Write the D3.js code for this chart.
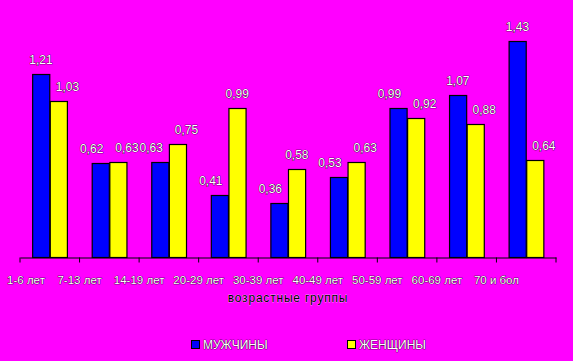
<!DOCTYPE html>
<html>
<head>
<meta charset="utf-8">
<script src="https://cdn.jsdelivr.net/npm/d3@7"></script>
<style>
  html, body { margin: 0; padding: 0; background: #ff00ff; }
  svg { display: block; font-family: "Liberation Sans", Arial, sans-serif; }
  .lbl { fill: #fff; stroke: #000; stroke-width: 0.7px; paint-order: stroke; }
</style>
</head>
<body>
<svg id="chart"></svg>
<script>
// age groups and values per sex
const ageGroups = ['1-6 лет', '7-13 лет', '14-19 лет', '20-29 лет', '30-39 лет',
    '40-49 лет', '50-59 лет', '60-69 лет', '70 и бол'];
const men = [1.21, 0.62, 0.63, 0.41, 0.36, 0.53, 0.99, 1.07, 1.43];
const women = [1.03, 0.63, 0.75, 0.99, 0.58, 0.63, 0.92, 0.88, 0.64];
const seriesNames = ['МУЖЧИНЫ', 'ЖЕНЩИНЫ'];
const seriesColors = ['#0000ff', '#ffff00'];
const axisTitle = 'возрастные группы';

let width = 573, height = 361;
let svg = d3.select('#chart').attr('width', width).attr('height', height);

let x = d3.scaleBand().domain(ageGroups).range([20, 556]);
let xs = d3.scaleBand().domain([0, 1]).range([0, x.bandwidth()]).paddingOuter(0.69);
let y = d3.scaleLinear().domain([0, 1.6]).range([257, 15.4]);
let fmt = v => d3.format('.2f')(v).replace('.', ',');

let rows = ageGroups.map((g, i) => ({group: g, vals: [men[i], women[i]]}));

// label placement: a label moves to the outer edge of its bar when the
// neighbouring bar is taller, or when both labels would collide
function labelShift(vals, s) {
    let dy = Math.abs(y(vals[0]) - y(vals[1]));
    let other = vals[1 - s];
    if (dy < 20 || other > vals[s]) {
        return (s === 0 ? -1 : 1) * xs.bandwidth() / 2;
    }
    return 0;
}

let groups = svg.selectAll('g.grp')
        .data(rows)
        .join('g')
        .attr('class', 'grp')
        .attr('transform', d => `translate(${x(d.group)},0)`);

groups.selectAll('rect')
        .data(d => d.vals.map((v, s) => ({v, s})))
        .join('rect')
        .attr('x', d => xs(d.s) + 0.5)
        .attr('y', d => Math.round(y(d.v)) + 0.5)
        .attr('width', xs.bandwidth() - 0.5)
        .attr('height', d => y(0) - Math.round(y(d.v)))
        .attr('fill', d => seriesColors[d.s])
        .attr('stroke', '#000')
        .attr('stroke-width', 1.2);

groups.selectAll('text.val')
        .data(d => d.vals.map((v, s) => ({v, s, vals: d.vals})))
        .join('text')
        .attr('class', 'val lbl')
        .attr('x', d => xs(d.s) + xs.bandwidth() / 2 + labelShift(d.vals, d.s))
        .attr('y', d => y(d.v) - 10)
        .attr('text-anchor', 'middle')
        .attr('font-size', 12)
        .text(d => fmt(d.v));

// x axis: labels sit under the left tick of each group
let axis = d3.axisBottom(x).tickSize(5).tickSizeOuter(0);
let ax = svg.append('g')
        .attr('transform', `translate(0,${y(0) + 0.5})`)
        .call(axis);
ax.select('.domain').attr('stroke', '#000').attr('stroke-width', 1.2);
ax.selectAll('.tick line')
        .attr('stroke', '#000')
        .attr('transform', `translate(${-x.bandwidth() / 2},0)`);
ax.selectAll('.tick text')
        .attr('class', 'lbl')
        .attr('transform', (d, i) => `translate(${-x.bandwidth() / 2 + (i === 0 ? 6 : 0)},0)`)
        .attr('y', 18)
        .attr('font-size', 11.5)
        .attr('font-family', '"Liberation Sans", Arial, sans-serif');
ax.append('line')
        .attr('x1', 556).attr('x2', 556)
        .attr('y1', 0).attr('y2', 5)
        .attr('stroke', '#000');

svg.append('text')
        .attr('x', 288)
        .attr('y', 302)
        .attr('text-anchor', 'middle')
        .attr('font-size', 12)
        .attr('letter-spacing', 0.8)
        .attr('fill', '#000')
        .attr('stroke', '#fff')
        .attr('stroke-width', 0.4)
        .attr('paint-order', 'stroke')
        .text(axisTitle);

// legend
let legX = [191, 347];
let leg = svg.selectAll('g.leg')
        .data(seriesNames)
        .join('g')
        .attr('class', 'leg')
        .attr('transform', (d, i) => `translate(${legX[i]},340)`);
leg.append('rect')
        .attr('x', 0.5).attr('y', 0.5)
        .attr('width', 8).attr('height', 8)
        .attr('fill', (d, i) => seriesColors[i])
        .attr('stroke', '#000');
leg.append('text')
        .attr('class', 'lbl')
        .attr('x', 12)
        .attr('y', 9)
        .attr('font-size', 12)
        .text(d => d);
</script>
</body>
</html>
